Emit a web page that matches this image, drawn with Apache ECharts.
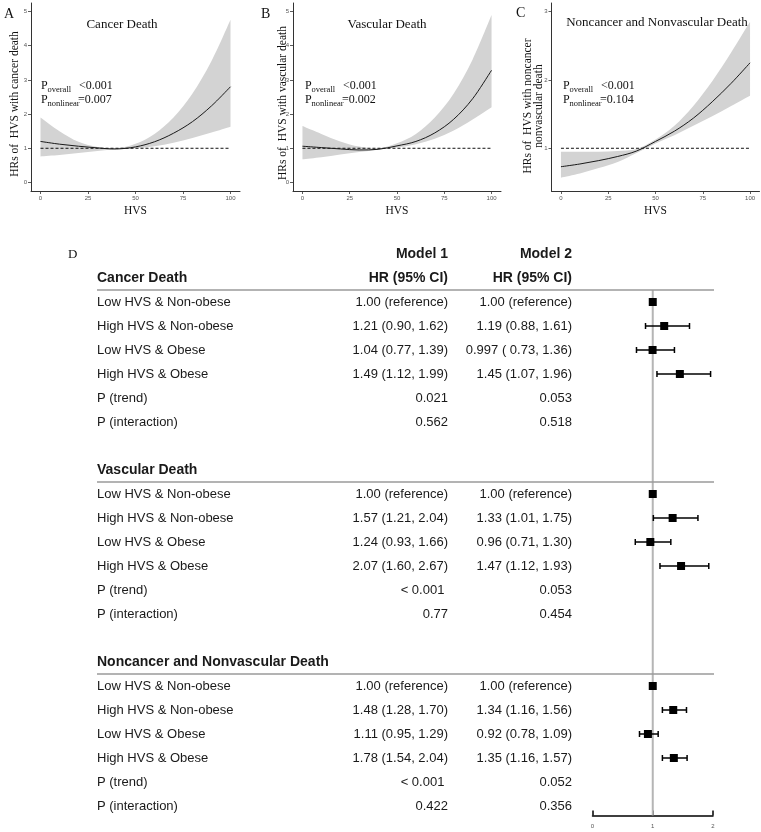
<!DOCTYPE html>
<html><head><meta charset="utf-8">
<script src="https://cdn.jsdelivr.net/npm/echarts@6/dist/echarts.min.js"></script>
<style>html,body{margin:0;padding:0;background:#fff}#main{width:761px;height:832px}</style>
</head><body><div id="main"></div>
<script>
// ---------- DATA ----------
const hvsX = [0, 10, 20, 30, 40, 50, 60, 70, 80, 90, 100];
const hvsTicks = [0, 25, 50, 75, 100];

const cancerFit   = [1.20, 1.12, 1.06, 1.01, 0.98, 1.04, 1.19, 1.44, 1.78, 2.24, 2.80];
const cancerUpper = [1.90, 1.50, 1.19, 1.04, 1.00, 1.13, 1.42, 1.90, 2.60, 3.55, 4.76];
const cancerLower = [0.76, 0.80, 0.86, 0.92, 0.97, 1.00, 1.06, 1.16, 1.30, 1.46, 1.63];

const vascFit   = [1.06, 1.02, 0.98, 0.95, 0.97, 1.07, 1.20, 1.45, 1.85, 2.45, 3.28];
const vascUpper = [1.65, 1.42, 1.20, 1.05, 1.00, 1.15, 1.42, 1.90, 2.60, 3.60, 4.90];
const vascLower = [0.68, 0.74, 0.82, 0.89, 0.96, 1.02, 1.12, 1.28, 1.52, 1.84, 2.20];

const otherFit   = [0.73, 0.77, 0.82, 0.88, 0.96, 1.10, 1.25, 1.44, 1.68, 1.95, 2.25];
const otherUpper = [0.95, 0.95, 0.95, 0.96, 0.99, 1.13, 1.33, 1.62, 1.98, 2.40, 2.85];
const otherLower = [0.57, 0.63, 0.71, 0.80, 0.93, 1.07, 1.19, 1.33, 1.47, 1.62, 1.77];

const yTicksAB = [0, 1, 2, 3, 4, 5];
const yTicksC = [1, 2, 3];

const panelTitles = ['Cancer Death', 'Vascular Death', 'Noncancer and Nonvascular Death'];
const panelLetters = ['A', 'B', 'C'];
const yTitles = ['HRs of  HVS with cancer death', 'HRs of  HVS with vascular death', 'HRs of  HVS with noncancer\nnonvascular death'];
const pOverall = ['<0.001', '<0.001', '<0.001'];
const pNonlinear = ['=0.007', '=0.002', '=0.104'];

const sectionNames = ['Cancer Death', 'Vascular Death', 'Noncancer and Nonvascular Death'];
const rowLabels = ['Low HVS & Non-obese', 'High HVS & Non-obese', 'Low HVS & Obese', 'High HVS & Obese', 'P (trend)', 'P (interaction)'];
const modelHeaders = ['Model 1', 'Model 2'];
const hrHeader = 'HR (95% CI)';
const model1Cancer = ['1.00 (reference)', '1.21 (0.90, 1.62)', '1.04 (0.77, 1.39)', '1.49 (1.12, 1.99)', '0.021', '0.562'];
const model2Cancer = ['1.00 (reference)', '1.19 (0.88, 1.61)', '0.997 ( 0.73, 1.36)', '1.45 (1.07, 1.96)', '0.053', '0.518'];
const model1Vascular = ['1.00 (reference)', '1.57 (1.21, 2.04)', '1.24 (0.93, 1.66)', '2.07 (1.60, 2.67)', '< 0.001\u00a0', '0.77'];
const model2Vascular = ['1.00 (reference)', '1.33 (1.01, 1.75)', '0.96 (0.71, 1.30)', '1.47 (1.12, 1.93)', '0.053', '0.454'];
const model1Other = ['1.00 (reference)', '1.48 (1.28, 1.70)', '1.11 (0.95, 1.29)', '1.78 (1.54, 2.04)', '< 0.001\u00a0', '0.422'];
const model2Other = ['1.00 (reference)', '1.34 (1.16, 1.56)', '0.92 (0.78, 1.09)', '1.35 (1.16, 1.57)', '0.052', '0.356'];

// forest plot (Model 2)
const hrCancer = [1.00, 1.19, 0.997, 1.45];
const loCancer = [null, 0.88, 0.73, 1.07];
const hiCancer = [null, 1.61, 1.36, 1.96];
const hrVascular = [1.00, 1.33, 0.96, 1.47];
const loVascular = [null, 1.01, 0.71, 1.12];
const hiVascular = [null, 1.75, 1.30, 1.93];
const hrOther = [1.00, 1.34, 0.92, 1.35];
const loOther = [null, 1.16, 0.78, 1.16];
const hiOther = [null, 1.56, 1.09, 1.57];
const refHR = 1;

// ---------- LAYOUT ----------
const SERIF = '"Liberation Serif", "Times New Roman", serif';
const SANS = '"Liberation Sans", Arial, sans-serif';
const ROWS_PER_SECTION = 8;
const rowMin = -2.5, rowMax = 21.4, rowTopLine = -0.5;
const tableWidth = 617;
const colModel1 = 351, colModel2 = 475;

const panels = [
  {fit: cancerFit, up: cancerUpper, lo: cancerLower, ymin: -0.25, ymax: 5.25, yt: yTicksAB},
  {fit: vascFit, up: vascUpper, lo: vascLower, ymin: -0.25, ymax: 5.25, yt: yTicksAB},
  {fit: otherFit, up: otherUpper, lo: otherLower, ymin: 0.375, ymax: 3.125, yt: yTicksC}
];
const panelGrids = [
  {left: 31, top: 3, width: 209, height: 188},
  {left: 293, top: 3, width: 208, height: 188},
  {left: 551.5, top: 3, width: 208, height: 188}
];

const grid = panelGrids.slice();
grid.push({left: 97, top: 242, width: tableWidth, height: (rowMax - rowMin) * 24});   // table
grid.push({left: 592.5, top: 242, width: 120.5, height: (rowMax - rowMin) * 24});   // forest

// Catmull-Rom -> cubic bezier path segments through screen points
function splineSegs(pts) {
  let d = '';
  for (let i = 0; i < pts.length - 1; i++) {
    const p0 = pts[i - 1] || pts[i], p1 = pts[i], p2 = pts[i + 1], p3 = pts[i + 2] || pts[i + 1];
    const c1 = [p1[0] + (p2[0] - p0[0]) / 6, p1[1] + (p2[1] - p0[1]) / 6];
    const c2 = [p2[0] - (p3[0] - p1[0]) / 6, p2[1] - (p3[1] - p1[1]) / 6];
    d += ' C' + c1[0] + ',' + c1[1] + ' ' + c2[0] + ',' + c2[1] + ' ' + p2[0] + ',' + p2[1];
  }
  return d;
}

const xAxis = [], yAxis = [], series = [];
const axisCol = '#333';
panels.forEach((p, k) => {
  xAxis.push({
    gridIndex: k, type: 'value', min: -5, max: 105,
    axisLine: {show: true, onZero: false, lineStyle: {color: axisCol, width: 1}},
    axisTick: {show: true, customValues: hvsTicks, length: 3, lineStyle: {color: axisCol, width: 0.8}},
    axisLabel: {show: true, customValues: hvsTicks, fontSize: 6, color: '#555', margin: 4, fontFamily: SANS},
    splitLine: {show: false},
    name: 'HVS', nameLocation: 'middle', nameGap: 14,
    nameTextStyle: {fontFamily: SERIF, fontSize: 11.5, color: '#111'}
  });
  yAxis.push({
    gridIndex: k, type: 'value', min: p.ymin, max: p.ymax,
    axisLine: {show: true, onZero: false, lineStyle: {color: axisCol, width: 1}},
    axisTick: {show: true, customValues: p.yt, length: 3, lineStyle: {color: axisCol, width: 0.8}},
    axisLabel: {show: true, customValues: p.yt, fontSize: 6, color: '#555', margin: 4, fontFamily: SANS},
    splitLine: {show: false}
  });
  series.push({
    type: 'custom', xAxisIndex: k, yAxisIndex: k, silent: true, z: 2,
    data: hvsX.map((x, i) => [x, p.lo[i], p.fit[i], p.up[i]]),
    encode: {x: 0, y: [1, 2, 3]},
    renderItem: function (params, api) {
      if (params.dataIndex !== 0) return null;
      const n = params.dataInsideLength;
      const up = [], lo = [], fit = [];
      for (let i = 0; i < n; i++) {
        const x = api.value(0, i);
        lo.push(api.coord([x, api.value(1, i)]));
        fit.push(api.coord([x, api.value(2, i)]));
        up.push(api.coord([x, api.value(3, i)]));
      }
      const loRev = lo.slice().reverse();
      const band = 'M' + up[0][0] + ',' + up[0][1] + splineSegs(up) +
        ' L' + loRev[0][0] + ',' + loRev[0][1] + splineSegs(loRev) + ' Z';
      const line = 'M' + fit[0][0] + ',' + fit[0][1] + splineSegs(fit);
      const r0 = api.coord([hvsTicks[0], refHR]);
      const r1 = api.coord([hvsTicks[hvsTicks.length - 1], refHR]);
      return {type: 'group', children: [
        {type: 'path', shape: {pathData: band}, style: {fill: '#d3d3d3', stroke: null}},
        {type: 'line', shape: {x1: r0[0], y1: r0[1], x2: r1[0], y2: r1[1]}, style: {stroke: '#111', lineWidth: 1, lineDash: [3, 2]}},
        {type: 'path', shape: {pathData: line}, style: {fill: null, stroke: '#1a1a1a', lineWidth: 1}}
      ]};
    }
  });
});

// table axes (3) and forest axes (4)
xAxis.push({gridIndex: 3, type: 'value', min: 0, max: tableWidth, show: false});
yAxis.push({gridIndex: 3, type: 'value', min: rowMin, max: rowMax, inverse: true, show: false});
xAxis.push({
  gridIndex: 4, type: 'value', min: 0, max: 2, interval: 1,
  axisLine: {show: true, onZero: false, lineStyle: {color: '#000', width: 1.5}},
  axisTick: {show: true, inside: true, length: 5, lineStyle: {color: '#000', width: 1.5}},
  axisLabel: {show: true, fontSize: 6, color: '#555', margin: 8, fontFamily: SANS},
  splitLine: {show: false}
});
yAxis.push({gridIndex: 4, type: 'value', min: rowMin, max: rowMax, inverse: true, show: false});

// table items
const m1 = [model1Cancer, model1Vascular, model1Other];
const m2 = [model2Cancer, model2Vascular, model2Other];
const tableItems = [{row: -2, kind: 'model', texts: ['', modelHeaders[0], modelHeaders[1]]}];
sectionNames.forEach((name, s) => {
  const base = s * ROWS_PER_SECTION;
  tableItems.push({row: base - 1, kind: 'section', texts: [name, s === 0 ? hrHeader : '', s === 0 ? hrHeader : '']});
  rowLabels.forEach((lab, i) => tableItems.push({row: base + i, kind: 'row', texts: [lab, m1[s][i], m2[s][i]]}));
});

series.push({
  type: 'custom', xAxisIndex: 3, yAxisIndex: 3, silent: true, z: 2,
  data: tableItems.map(it => [0, it.row]),
  renderItem: function (params, api) {
    const it = tableItems[params.dataIndex];
    const y = api.coord([0, it.row])[1];
    const xL = api.coord([0, it.row])[0];
    const x1 = api.coord([colModel1, it.row])[0];
    const x2 = api.coord([colModel2, it.row])[0];
    const bold = it.kind !== 'row';
    const font = (bold ? 'bold 14px ' : '13px ') + SANS;
    const fill = '#1a1a1a';
    const children = [
      {type: 'text', style: {text: it.texts[0], x: xL, y: y, font: font, fill: fill, textAlign: 'left', textVerticalAlign: 'middle'}},
      {type: 'text', style: {text: it.texts[1], x: x1, y: y, font: font, fill: fill, textAlign: 'right', textVerticalAlign: 'middle'}},
      {type: 'text', style: {text: it.texts[2], x: x2, y: y, font: font, fill: fill, textAlign: 'right', textVerticalAlign: 'middle'}}
    ];
    if (it.kind === 'section') {
      const a = api.coord([0, it.row + 0.5]);
      const b = api.coord([tableWidth, it.row + 0.5]);
      children.push({type: 'line', shape: {x1: a[0], y1: a[1], x2: b[0], y2: b[1]}, style: {stroke: '#9a9a9a', lineWidth: 1.5}});
    }
    return {type: 'group', children: children};
  }
});

// forest
const hrs = [hrCancer, hrVascular, hrOther];
const los = [loCancer, loVascular, loOther];
const his = [hiCancer, hiVascular, hiOther];
const pts = [], bars = [];
hrs.forEach((arr, s) => arr.forEach((v, i) => {
  const row = s * ROWS_PER_SECTION + i;
  pts.push([v, row]);
  if (los[s][i] != null) bars.push([los[s][i], his[s][i], row]);
}));

series.push({
  type: 'line', xAxisIndex: 4, yAxisIndex: 4, silent: true, z: 1, symbol: 'none',
  data: [[refHR, rowTopLine], [refHR, rowMax]],
  lineStyle: {color: '#b5b5b5', width: 2}
});
series.push({
  type: 'custom', xAxisIndex: 4, yAxisIndex: 4, silent: true, z: 2,
  data: bars,
  renderItem: function (params, api) {
    const a = api.coord([api.value(0), api.value(2)]);
    const b = api.coord([api.value(1), api.value(2)]);
    const st = {stroke: '#000', lineWidth: 1.5};
    return {type: 'group', children: [
      {type: 'line', shape: {x1: a[0], y1: a[1], x2: b[0], y2: b[1]}, style: st},
      {type: 'line', shape: {x1: a[0], y1: a[1] - 3, x2: a[0], y2: a[1] + 3}, style: st},
      {type: 'line', shape: {x1: b[0], y1: b[1] - 3, x2: b[0], y2: b[1] + 3}, style: st}
    ]};
  }
});
series.push({
  type: 'scatter', xAxisIndex: 4, yAxisIndex: 4, silent: true, z: 3,
  data: pts, symbol: 'rect', symbolSize: 8, itemStyle: {color: '#000', opacity: 1}
});

// ---------- annotations ----------
const graphic = [];
const letterPos = [[4, 14], [261, 14], [516, 13]];
const titlePos = [[122, 25], [387, 25], [657, 23]];
const yTitlePos = [[15, 104], [283, 103], [533, 106]];
const pPos = [[41, 86], [305, 86], [563, 86]];
panels.forEach((p, k) => {
  graphic.push({type: 'text', x: letterPos[k][0], y: letterPos[k][1], style: {text: panelLetters[k], font: '14px ' + SERIF, fill: '#111', textAlign: 'left', textVerticalAlign: 'middle'}});
  graphic.push({type: 'text', x: titlePos[k][0], y: titlePos[k][1], style: {text: panelTitles[k], font: '13px ' + SERIF, fill: '#111', textAlign: 'center', textVerticalAlign: 'middle'}});
  graphic.push({type: 'text', x: yTitlePos[k][0], y: yTitlePos[k][1], rotation: Math.PI / 2, style: {text: yTitles[k], font: '11.5px ' + SERIF, lineHeight: 11, fill: '#111', textAlign: 'center', textVerticalAlign: 'middle'}});
  const px = pPos[k][0], py = pPos[k][1];
  graphic.push({type: 'text', x: px, y: py, style: {text: 'P', font: '12px ' + SERIF, fill: '#111', textAlign: 'left', textVerticalAlign: 'middle'}});
  graphic.push({type: 'text', x: px + 6.5, y: py + 3.5, style: {text: 'overall', font: '8.5px ' + SERIF, fill: '#111', textAlign: 'left', textVerticalAlign: 'middle'}});
  graphic.push({type: 'text', x: px + 38, y: py, style: {text: pOverall[k], font: '12px ' + SERIF, fill: '#111', textAlign: 'left', textVerticalAlign: 'middle'}});
  graphic.push({type: 'text', x: px, y: py + 14, style: {text: 'P', font: '12px ' + SERIF, fill: '#111', textAlign: 'left', textVerticalAlign: 'middle'}});
  graphic.push({type: 'text', x: px + 6.5, y: py + 17.5, style: {text: 'nonlinear', font: '8.5px ' + SERIF, fill: '#111', textAlign: 'left', textVerticalAlign: 'middle'}});
  graphic.push({type: 'text', x: px + 37, y: py + 14, style: {text: pNonlinear[k], font: '12px ' + SERIF, fill: '#111', textAlign: 'left', textVerticalAlign: 'middle'}});
});
graphic.push({type: 'text', x: 68, y: 255, style: {text: 'D', font: '13px ' + SERIF, fill: '#111', textAlign: 'left', textVerticalAlign: 'middle'}});

const chart = echarts.init(document.getElementById('main'), null, {renderer: 'canvas'});
chart.setOption({
  animation: false,
  backgroundColor: '#fff',
  grid: grid,
  xAxis: xAxis,
  yAxis: yAxis,
  series: series,
  graphic: graphic
});
</script>
</body></html>
